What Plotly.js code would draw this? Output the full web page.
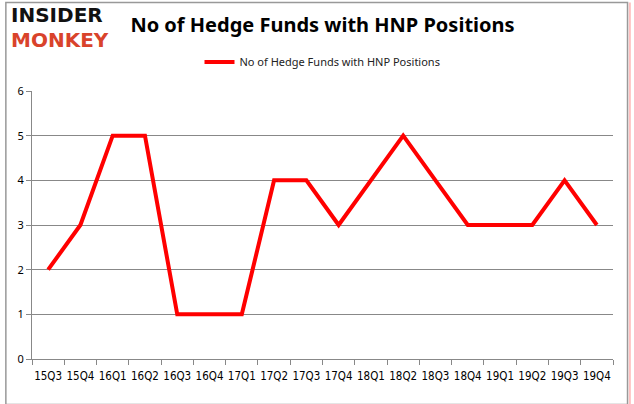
<!DOCTYPE html>
<html><head><meta charset="utf-8">
<script src="https://cdn.plot.ly/plotly-3.0.1.min.js"></script>
<style>html,body{margin:0;padding:0;background:#fff;}#c{width:634px;height:404px;}</style>
</head><body><div id="c"></div>
<script>
const quarters = ["15Q3","15Q4","16Q1","16Q2","16Q3","16Q4","17Q1","17Q2","17Q3","17Q4","18Q1","18Q2","18Q3","18Q4","19Q1","19Q2","19Q3","19Q4"];
const hedgeFunds = [2,3,5,5,1,1,1,4,4,3,4,5,4,3,3,3,4,3];
const seriesName = "No of Hedge Funds with HNP Positions";
const yTicks = [0,1,2,3,4,5,6];

const trace = {
  x: quarters, y: hedgeFunds, type: "scatter", mode: "lines",
  name: seriesName,
  line: {color: "#ff0000", width: 4}
};
const layout = {
  width: 634, height: 404,
  margin: {l: 32, r: 21, t: 91, b: 45},
  paper_bgcolor: "#fff", plot_bgcolor: "#fff",
  font: {family: "Noto Sans, sans-serif", color: "#000", size: 11},
  showlegend: true,
  legend: {orientation: "h", x: 0.5, xanchor: "center", y: 1.108, yanchor: "middle",
           font: {size: 11, color: "#222"}},
  title: {text: "<b>No of Hedge Funds with HNP Positions</b>", x: 0.5, xanchor: "center", xref: "paper",
          y: 0.938, yanchor: "middle", font: {size: 20, color: "#000", family: "Noto Sans, sans-serif"}},
  xaxis: {type: "category", tickson: "boundaries", ticks: "outside", ticklen: 5, tickcolor: "#888",
          tickangle: 0, showline: true, linecolor: "#888", linewidth: 1, showgrid: false,
          ticklabelstandoff: 6,
          tickfont: {size: 11.5, family: "DejaVu Sans Condensed, DejaVu Sans, sans-serif"}, range: [-0.5, 17.5]},
  yaxis: {range: [0, 6], tickvals: yTicks, ticks: "outside", ticklen: 5, tickcolor: "#888",
          showline: true, linecolor: "#888", showgrid: true, gridcolor: "#888", gridwidth: 1,
          zeroline: false, tickfont: {size: 11}},
  shapes: [
    {type: "rect", xref: "paper", yref: "paper", x0: -0.045, x1: 1.025, y0: -0.17, y1: 1.33,
     line: {color: "#999", width: 1.5}, layer: "below"},
    {type: "line", xref: "paper", yref: "paper", x0: -0.045, x1: 1.025, y0: -0.178, y1: -0.178,
     line: {color: "rgba(255,0,0,0.5)", width: 3}},
    {type: "line", xref: "paper", yref: "paper", x0: 1.029, x1: 1.029, y0: -0.178, y1: 1.33,
     line: {color: "rgba(255,0,0,0.25)", width: 2}}
  ],
  annotations: [
    {text: "<b>INSIDER</b>", xref: "paper", yref: "paper", x: -0.04, y: 1.285, xanchor: "left", yanchor: "middle",
     showarrow: false, font: {size: 20, color: "#111", family: "DejaVu Sans, sans-serif"}},
    {text: "<b>MONKEY</b>", xref: "paper", yref: "paper", x: -0.04, y: 1.19, xanchor: "left", yanchor: "middle",
     showarrow: false, font: {size: 20, color: "#d9432b", family: "DejaVu Sans, sans-serif"}}
  ]
};
Plotly.newPlot("c", [trace], layout, {displayModeBar: false, staticPlot: true});
</script></body></html>
